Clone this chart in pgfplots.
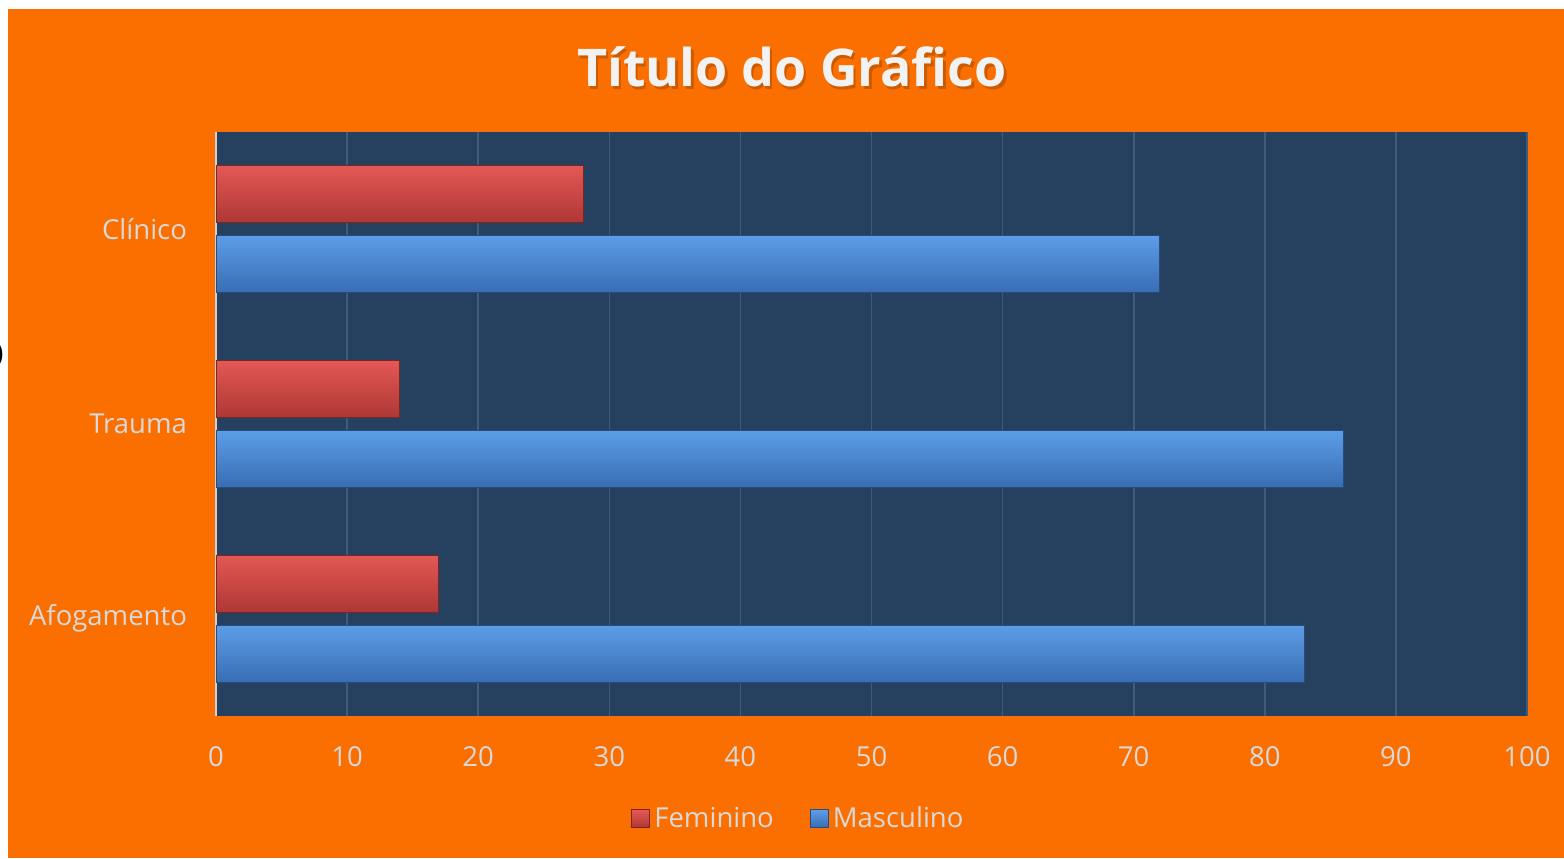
\documentclass[border=0pt]{standalone}
\usepackage{pgfplots}
\pgfplotsset{compat=1.18}
\usepackage{fontspec}
\setmainfont{Open Sans}
\definecolor{bgorange}{HTML}{FA6F00}
\definecolor{labelgray}{HTML}{D9D9D9}
\definecolor{plotbg}{HTML}{26405F}
\definecolor{gridc}{HTML}{3D5B7D}
\definecolor{redtop}{HTML}{E35855}
\definecolor{redmid}{HTML}{C9403D}
\definecolor{redbot}{HTML}{AE3734}
\definecolor{bluetop}{HTML}{5C9DE8}
\definecolor{bluemid}{HTML}{407FCE}
\definecolor{bluebot}{HTML}{386DB2}
\begin{document}
\begin{tikzpicture}[x=0.5pt,y=-0.5pt]
\useasboundingbox (0,0) rectangle (1564,858);
\fill[white] (0,0) rectangle (1564,858);
\fill[bgorange] (8,9) rectangle (1564,858);
\node[anchor=east, inner sep=0pt, font=\fontsize{13.75}{16}\selectfont] at (4,355) {)};
\node[font=\fontsize{26}{30}\bfseries\selectfont, text=black, opacity=0.18] at (794.5,70) {Título do Gráfico};
\node[font=\fontsize{26}{30}\bfseries\selectfont, text=white!95!black] at (792,67) {Título do Gráfico};
\begin{axis}[
  at={(108pt,-358pt)}, anchor=south west,
  scale only axis, width=655.5pt, height=292pt,
  xmin=0, xmax=100, ymin=-0.5, ymax=2.5,
  xbar, bar width=28.5pt,
  axis background/.style={fill=plotbg},
  axis y line*=left, axis x line*=bottom,
  x axis line style={draw=none},
  y axis line style={draw=white!65!gray, line width=1pt, -},
  xtick={0,10,...,100},
  ytick={0,1,2}, yticklabels={Afogamento,Trauma,Clínico},
  major tick length=0pt,
  xmajorgrids, major grid style={draw=gridc, line width=0.8pt},
  ticklabel style={font=\fontsize{13.75}{16}\selectfont, text=labelgray},
  /pgf/number format/assume math mode=true,
  xticklabel style={anchor=center, yshift=-20.5pt},
  yticklabel style={anchor=east, xshift=-11pt},
  legend image code/.code={\fill[#1] (-2pt,-4.5pt) rectangle (7pt,4.5pt);},
  legend columns=2,
  legend style={at={(0.445,-0.176)}, anchor=center, draw=none, fill=none,
    text=labelgray, font=\fontsize{13.75}{16}\selectfont,
    /tikz/every even column/.append style={column sep=16pt}},
  fem/.style={draw=redbot!70!black, line width=0.5pt, top color=redtop, middle color=redmid, bottom color=redbot, bar shift=17.5pt},
  mas/.style={draw=bluebot!70!black, line width=0.5pt, top color=bluetop, middle color=bluemid, bottom color=bluebot, bar shift=-17.5pt},
]
\addplot[fem] coordinates {(28,2)};
\addlegendentry{Feminino}
\addplot[mas] coordinates {(72,2)};
\addlegendentry{Masculino}
\addplot[fem, forget plot] coordinates {(14,1)};
\addplot[fem, forget plot] coordinates {(17,0)};
\addplot[mas, forget plot] coordinates {(86,1)};
\addplot[mas, forget plot] coordinates {(83,0)};
\end{axis}
\end{tikzpicture}
\end{document}
